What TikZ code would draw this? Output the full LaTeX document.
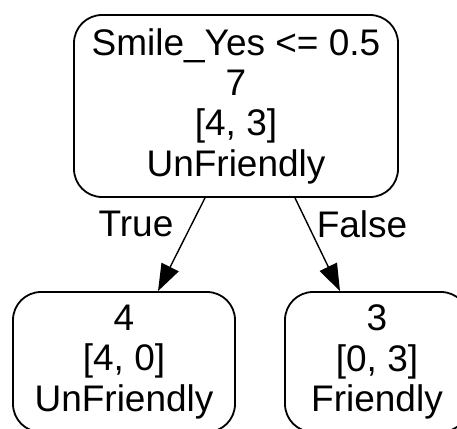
\documentclass[tikz,border=0pt]{standalone}
\usepackage{fontspec}
\setmainfont{Liberation Sans}
\usetikzlibrary{arrows.meta,calc}
\begin{document}
\begin{tikzpicture}[x=1pt,y=-1pt,
  box/.style={draw, line width=1.8pt, rounded corners=28pt, align=center, inner sep=0pt,
    font=\fontsize{37}{40.3}\selectfont},
  edge/.style={line width=1.4pt, -{Triangle[length=27pt,width=19pt]}},
  lbl/.style={font=\fontsize{37}{40.3}\selectfont, inner sep=0pt}]
\useasboundingbox[clip] (0,0) rectangle (457,428);
\node[box, minimum width=324pt, minimum height=182pt] (root) at (236,106)
  {Smile\_Yes <= 0.5\\7\\{}[4, 3]\\UnFriendly};
\node[box, minimum width=222pt, minimum height=140pt] (ch1) at (124,362)
  {4\\{}[4, 0]\\UnFriendly};
\node[box, minimum width=184pt, minimum height=140pt] (ch2) at (377,362)
  {3\\{}[0, 3]\\Friendly};
\draw[edge] ($(root.south)+(-31,0)$) -- ($(ch1.north)+(34,0)$);
\draw[edge] ($(root.south)+(59,0)$) -- ($(ch2.north)+(-37,0)$);
\node[lbl] (t) at (136,224) {True};
\node[lbl] (f) at (362,224) {False};
\end{tikzpicture}
\end{document}
